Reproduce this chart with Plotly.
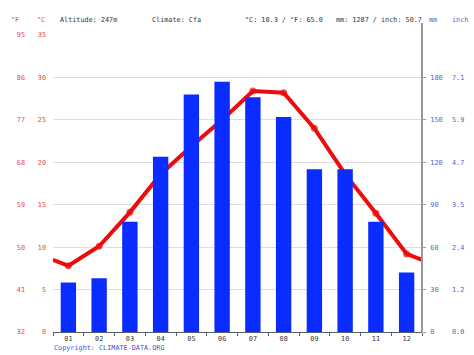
import plotly.graph_objects as go

# ---- data ----
months = ["01", "02", "03", "04", "05", "06", "07", "08", "09", "10", "11", "12"]
precip_mm = [35, 38, 78, 124, 168, 177, 166, 152, 115, 115, 78, 42]
temp_c = [7.8, 10.1, 14.1, 18.6, 21.9, 25.0, 28.4, 28.2, 24.0, 18.6, 14.0, 9.2]
c_ticks = [0, 5, 10, 15, 20, 25, 30, 35]
mm_ticks = [0, 30, 60, 90, 120, 150, 180]
header = {
    "altitude": "Altitude: 247m",
    "climate": "Climate: Cfa",
    "temp": "°C: 18.3 / °F: 65.0",
    "precip": "mm: 1287 / inch: 50.7",
}

f_ticks = [str(round(32 + 1.8 * c)) for c in c_ticks]
inch_ticks = ["%.1f" % (m / 25.4) for m in mm_ticks]

W, H = 474, 355
L, R, T, B = 53, 52, 35, 23
PW, PH = W - L - R, H - T - B

def px(x):
    return (x - L) / PW

def py(y):
    return (H - B - y) / PH

FONT = "DejaVu Sans Mono"
FS = 6.8
RED_T = "#e2474c"
BLUE_T = "#4d5fdc"
GREY_T = "#333333"

xs = list(range(1, 13))
edge = (temp_c[-1] + temp_c[0]) / 2
line_x = [0.5] + xs + [12.5]
line_y = [edge] + temp_c + [edge]
msize = [0] + [7] * 12 + [0]

fig = go.Figure()
fig.add_trace(go.Bar(x=xs, y=precip_mm, yaxis="y2", width=0.5,
                     marker=dict(color="#0a2cff", line=dict(width=0)),
                     showlegend=False, hoverinfo="skip"))
fig.add_trace(go.Scatter(x=line_x, y=line_y, yaxis="y", mode="lines+markers",
                         line=dict(color="#ee0b0b", width=4),
                         marker=dict(color="#ee0b0b", size=msize, line=dict(width=0)),
                         showlegend=False, cliponaxis=True, hoverinfo="skip"))

fig.update_layout(
    width=W, height=H,
    margin=dict(l=L, r=R, t=T, b=B, pad=0, autoexpand=False),
    paper_bgcolor="white", plot_bgcolor="white",
    font=dict(family=FONT, size=FS, color=GREY_T),
    bargap=0.5,
    xaxis=dict(range=[0.5, 12.5], tickvals=xs, ticktext=months, ticks="",
               showgrid=False, zeroline=False, showline=True, automargin=False,
               linecolor="#556070", linewidth=1,
               tickfont=dict(family=FONT, size=FS, color=GREY_T),
               ticklabelstandoff=0,
               minor=dict(ticks="outside", tick0=0.5, dtick=1, ticklen=3,
                          tickcolor="#556070", showgrid=False)),
    yaxis=dict(range=[0, 35], tickvals=c_ticks, ticktext=[str(c) for c in c_ticks],
               showgrid=True, gridcolor="#dedede", gridwidth=1, zeroline=False,
               showline=False, ticks="", side="left", automargin=False,
               tickfont=dict(family=FONT, size=FS, color=RED_T),
               ticklabelstandoff=6),
    yaxis3=dict(range=[0, 35], tickvals=c_ticks, ticktext=f_ticks, overlaying="y",
                side="left", showgrid=False, zeroline=False, showline=False, ticks="",
                automargin=False,
                tickfont=dict(family=FONT, size=FS, color=RED_T),
                ticklabelstandoff=27),
    yaxis2=dict(range=[0, 210], tickvals=mm_ticks, ticktext=[str(m) for m in mm_ticks],
                overlaying="y", side="right", showgrid=False, zeroline=False,
                showline=False, ticks="outside", ticklen=3, tickcolor="#999999",
                automargin=False,
                tickfont=dict(family=FONT, size=FS, color=BLUE_T),
                ticklabelstandoff=3),
    yaxis4=dict(range=[0, 210], tickvals=mm_ticks, ticktext=inch_ticks,
                overlaying="y", side="right", showgrid=False, zeroline=False,
                showline=False, ticks="", automargin=False,
                tickfont=dict(family=FONT, size=FS, color=BLUE_T),
                ticklabelstandoff=29),
)

# invisible traces to activate overlay axes
fig.add_trace(go.Scatter(x=[None], y=[None], yaxis="y3", showlegend=False))
fig.add_trace(go.Scatter(x=[None], y=[None], yaxis="y4", showlegend=False))

# right axis line, extending above the plot area
fig.add_shape(type="line", xref="paper", yref="paper", x0=1, x1=1,
              y0=0, y1=py(23), line=dict(color="#999999", width=2))

hy = py(20)
anns = [
    ("°F", 15, "center", RED_T),
    ("°C", 41, "center", RED_T),
    (header["altitude"], 58, "left", GREY_T),
    (header["climate"], 150, "left", GREY_T),
    (header["temp"], 243, "left", GREY_T),
    (header["precip"], 334, "left", GREY_T),
    ("mm", 433, "center", BLUE_T),
    ("inch", 460, "center", BLUE_T),
]
for text, x, anchor, col in anns:
    fig.add_annotation(text=text, xref="paper", yref="paper", x=px(x), y=hy,
                       xanchor=anchor, yanchor="middle", showarrow=False,
                       font=dict(family=FONT, size=FS, color=col))

fig.add_annotation(text="Copyright: CLIMATE-DATA.ORG", xref="paper", yref="paper",
                   x=px(52), y=py(348), xanchor="left", yanchor="middle",
                   showarrow=False, font=dict(family=FONT, size=FS, color="#3a55d8"))

fig.write_html("out.html",
               config={"displayModeBar": False, "staticPlot": True},
               post_script="document.body.style.margin='0';document.body.style.overflow='hidden';")
